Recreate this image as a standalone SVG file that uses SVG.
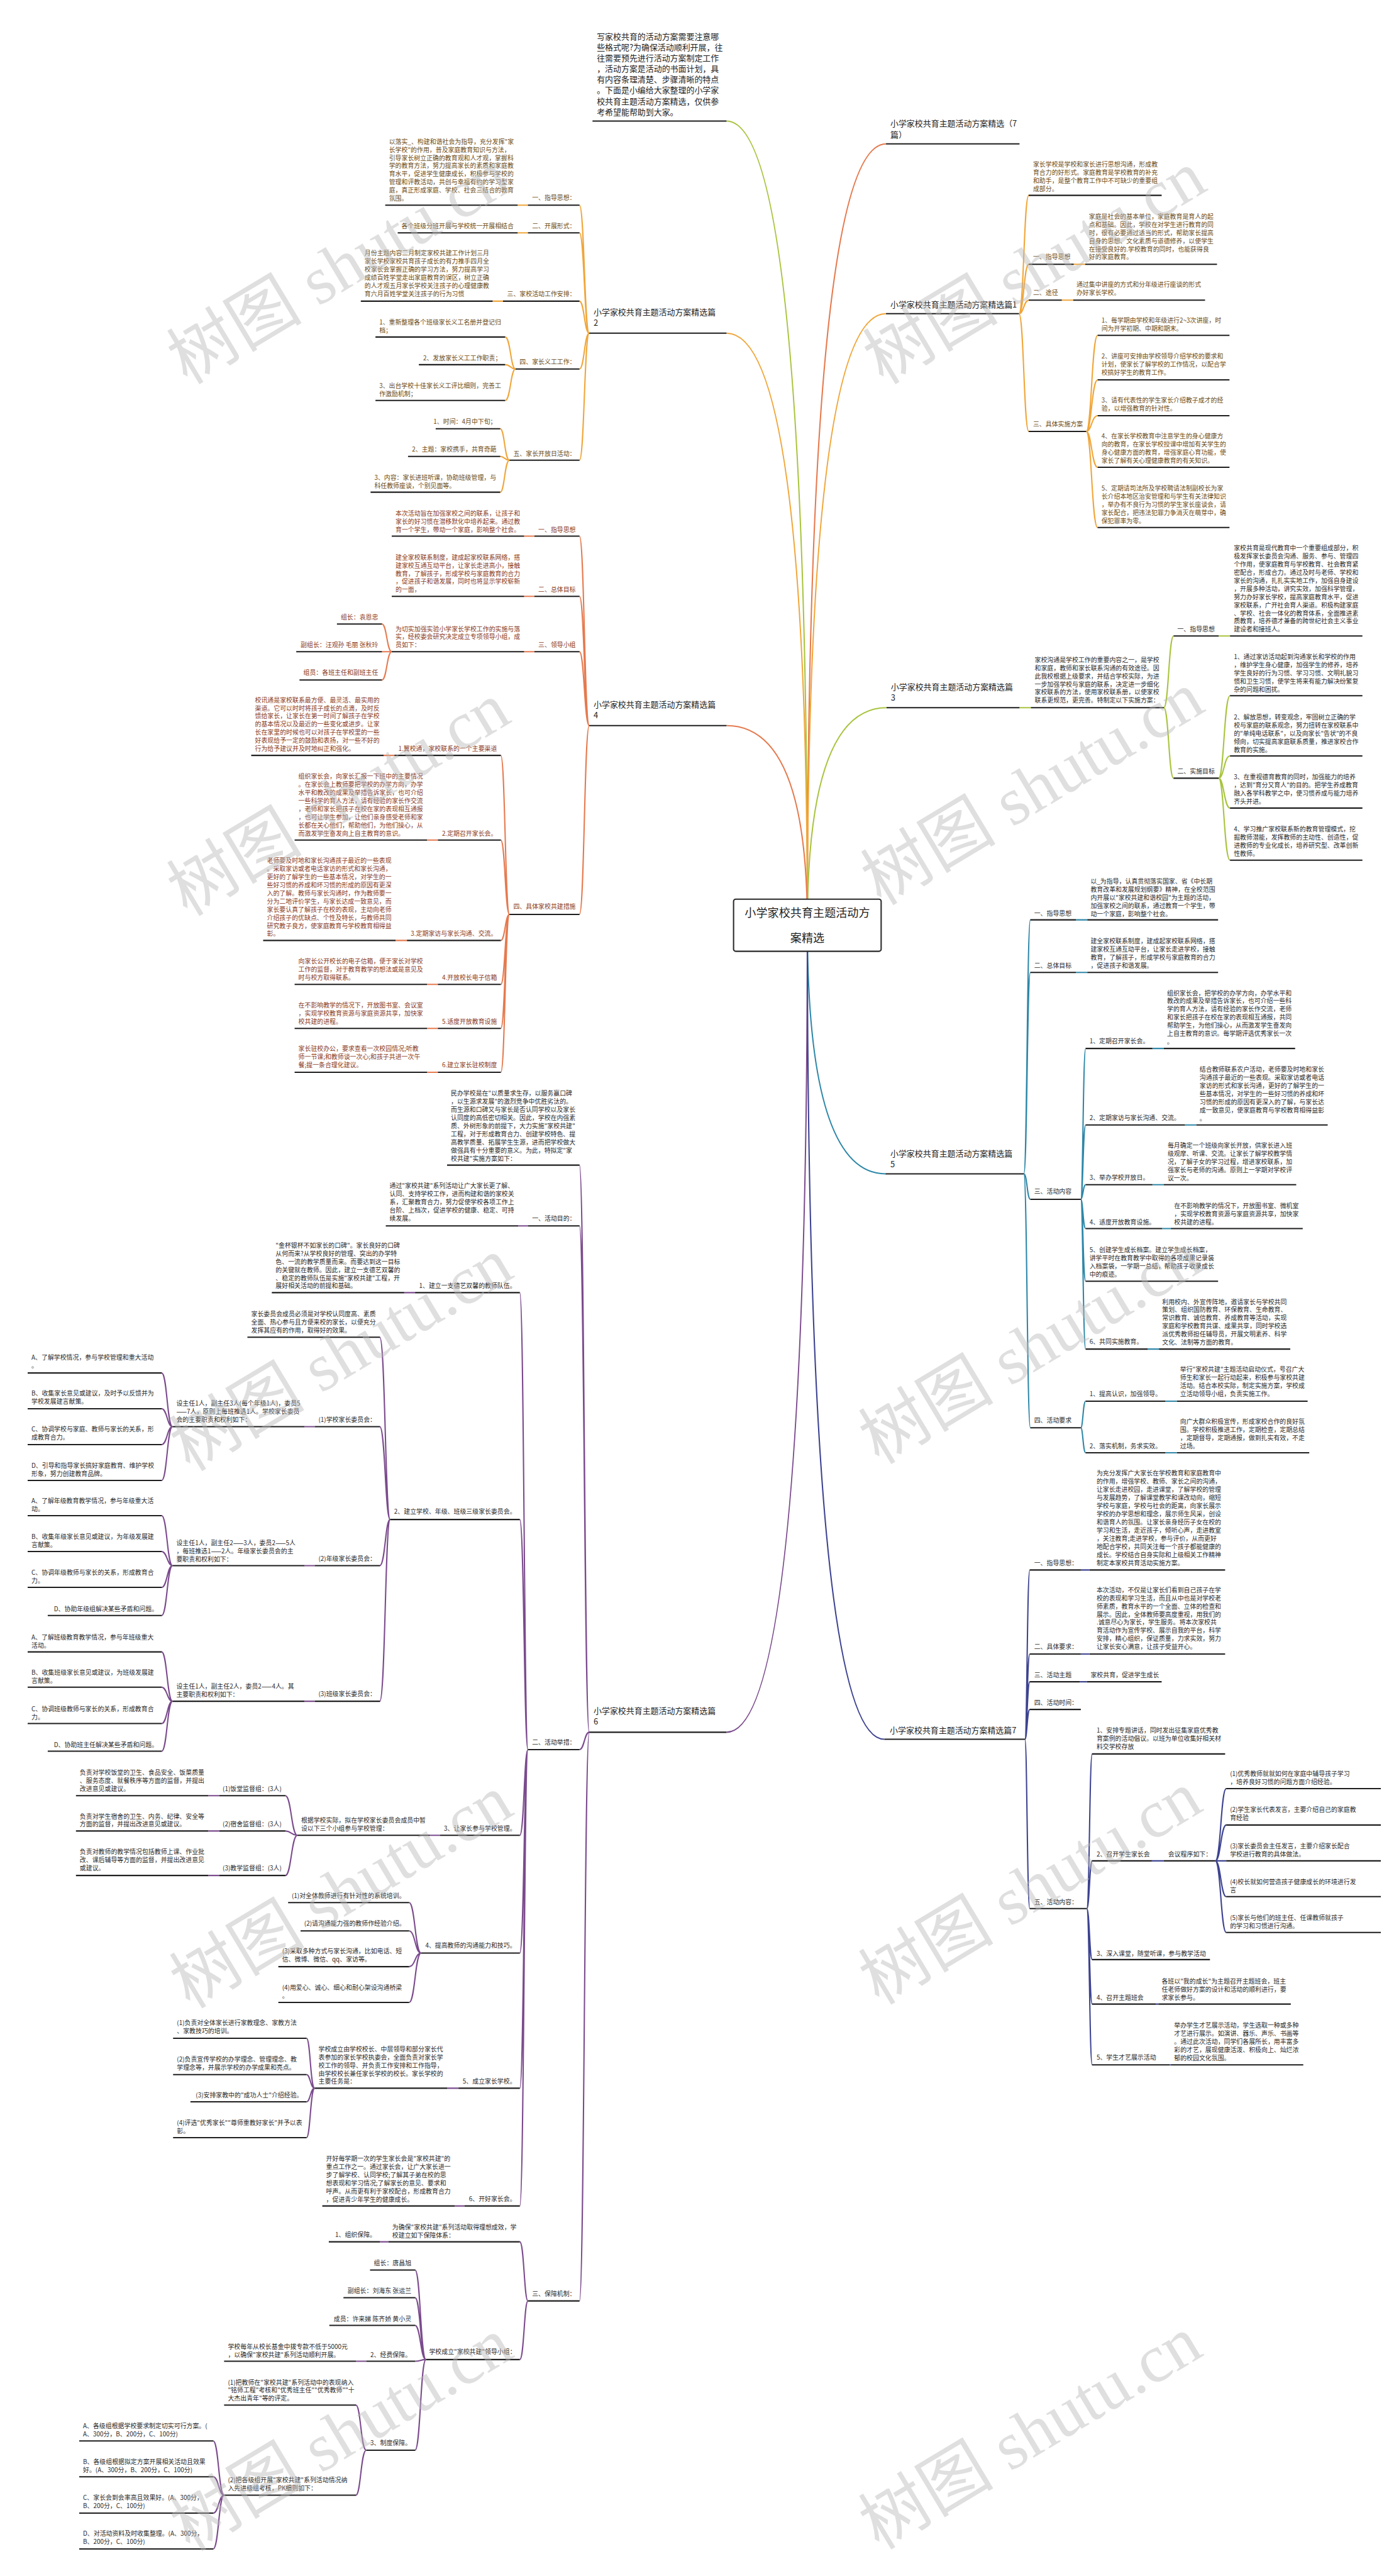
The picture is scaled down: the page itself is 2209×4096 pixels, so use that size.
<svg xmlns="http://www.w3.org/2000/svg" width="2209" height="4096" viewBox="0 0 2209 4096">
<style>
text{font-family:"Noto Sans CJK SC","Noto Sans",sans-serif}
.t{font-size:11.5px}
.e{text-anchor:end}
.tl{font-size:15px;fill:#1e1e1e}
.b{fill:#6b4a12}
.r{fill:#8a3a1c}
.d{fill:#2a2a2a}
.u{stroke:#1e1e1e;stroke-width:2.4;fill:none}
.c path{fill:none;stroke-width:2.4}
.cg{stroke:#a8c43e}.co{stroke:#f0a63a}.cr{stroke:#e57a4f}.ct{stroke:#2e87a8}.cp{stroke:#7b4b8d}.ci{stroke:#3d4390}
.wm{font-family:"Liberation Serif","Noto Sans CJK SC",serif;font-size:125px;fill:#b8b8b8;fill-opacity:.45}
</style>
<rect width="2209" height="4096" fill="#fff"/>
<g transform="scale(0.86289)">
<g id="connectors" class="c">
<path class="cg" d="M1488 1705Q1488 223 1339 223"/>
<path class="cr" d="M1488 1705Q1488 265 1633 265"/>
<path class="co" d="M1488 1705Q1488 578 1633 578"/>
<path class="co" d="M1488 1705Q1488 614 1339 614"/>
<path class="cg" d="M1488 1705Q1488 1304 1634 1304"/>
<path class="cr" d="M1488 1705Q1488 1337 1339 1337"/>
<path class="ct" d="M1488 1705Q1488 2163 1632 2163"/>
<path class="cp" d="M1488 1705Q1488 3192 1339 3192"/>
<path class="ci" d="M1488 1705Q1488 3205 1630 3205"/>
<!-- 篇1 -->
<path class="co" d="M1878 578C1887 578 1887 360 1896 360M1878 578C1887 578 1887 487 1896 487M1878 578C1887 578 1887 553 1896 553M1878 578C1887 578 1887 795 1896 795M1979 487H2000M1957 553H1978M2002 795C2012 795 2012 618 2023 618M2002 795C2012 795 2012 700 2023 700M2002 795C2012 795 2012 766 2023 766M2002 795C2012 795 2012 861 2023 861M2002 795C2012 795 2012 972 2023 972"/>
<!-- 篇2 -->
<path class="co" d="M1086 614C1077 614 1077 378 1068 378M1086 614C1077 614 1077 429 1068 429M1086 614C1077 614 1077 555 1068 555M1086 614C1077 614 1077 680 1068 680M1086 614C1077 614 1077 848 1068 848M973 378H954M973 429H954M927 555H908M950 680C941 680 941 621 931 621M950 680C941 680 941 672 931 672M950 680C941 680 941 738 931 738M939 848C930 848 930 790 922 790M939 848C930 848 930 841 922 841M939 848C930 848 930 907 922 907"/>
<!-- 篇3 -->
<path class="cg" d="M1879 1304H1900M2145 1304C2154 1304 2154 1172 2163 1172M2145 1304C2154 1304 2154 1434 2163 1434M2246 1172H2267M2246 1434C2256 1434 2256 1282 2267 1282M2246 1434C2256 1434 2256 1393 2267 1393M2246 1434C2256 1434 2256 1489 2267 1489M2246 1434C2256 1434 2256 1585 2267 1585"/>
<!-- 篇4 -->
<path class="cr" d="M1086 1337C1077 1337 1077 988 1068 988M1086 1337C1077 1337 1077 1099 1068 1099M1086 1337C1077 1337 1077 1201 1068 1201M1086 1337C1077 1337 1077 1685 1068 1685M985 988H966M985 1099H966M985 1201H966M722 1201C713 1201 713 1150 704 1150M722 1201H704M722 1201C713 1201 713 1253 704 1253M939 1685C931 1685 931 1392 923 1392M939 1685C931 1685 931 1548 923 1548M939 1685C931 1685 931 1733 923 1733M939 1685C931 1685 931 1814 923 1814M939 1685C931 1685 931 1895 923 1895M939 1685C931 1685 931 1976 923 1976M727 1392H707M807 1548H787M750 1733H729M807 1814H787M807 1895H787M807 1976H787"/>
<!-- 篇5 -->
<path class="ct" d="M1887 2163C1893 2163 1893 1695 1899 1695M1887 2163C1893 2163 1893 1792 1899 1792M1887 2163C1893 2163 1893 2210 1899 2210M1887 2163C1893 2163 1893 2631 1899 2631M1983 1695H2004M1983 1792H2004M1992 2210C1996 2210 1996 1932 2001 1932M1992 2210C1996 2210 1996 2073 2001 2073M1992 2210C1996 2210 1996 2183 2001 2183M1992 2210C1996 2210 1996 2264 2001 2264M1992 2210C1996 2210 1996 2361 2001 2361M1992 2210C1996 2210 1996 2486 2001 2486M2124 1932H2145M2184 2073H2205M2124 2183H2145M2142 2264H2158M2115 2486H2136M1992 2631C1996 2631 1996 2582 2001 2582M1992 2631C1996 2631 1996 2677 2001 2677M2148 2582H2169M2148 2677H2169"/>
<!-- 篇6 -->
<path class="cp" d="M1086 3192C1077 3192 1077 2147 1068 2147M1086 3192C1077 3192 1077 2259 1068 2259M1086 3192C1077 3192 1077 3224 1068 3224M1086 3192C1077 3192 1077 4240 1068 4240M973 2259H955M973 3224C966 3224 966 2382 958 2382M973 3224C966 3224 966 2800 958 2800M973 3224C966 3224 966 3382 958 3382M973 3224C966 3224 966 3599 958 3599M973 3224C966 3224 966 3848 958 3848M973 3224C966 3224 966 4065 958 4065M765 2382H745M719 2800C710 2800 710 2464 700 2464M719 2800C710 2800 710 2629 700 2629M719 2800C710 2800 710 2885 700 2885M719 2800C710 2800 710 3135 700 3135M580 2629H561M580 2885H561M580 3135H561M318 2629C308 2629 308 2530 298 2530M318 2629C308 2629 308 2596 298 2596M318 2629C308 2629 308 2662 298 2662M318 2629C308 2629 308 2728 298 2728M318 2885C308 2885 308 2793 298 2793M318 2885C308 2885 308 2859 298 2859M318 2885C308 2885 308 2925 298 2925M318 2885C308 2885 308 2977 298 2977M318 3135C308 3135 308 3044 298 3044M318 3135C308 3135 308 3109 298 3109M318 3135C308 3135 308 3176 298 3176M318 3135C308 3135 308 3227 298 3227M811 3382H792M548 3382C537 3382 537 3309 526 3309M548 3382C537 3382 537 3374 526 3374M548 3382C537 3382 537 3456 526 3456M404 3309H384M404 3374H384M404 3456H384M776 3599C765 3599 765 3506 754 3506M776 3599C765 3599 765 3558 754 3558M776 3599C765 3599 765 3624 754 3624M776 3599C765 3599 765 3690 754 3690M845 3848H824M580 3848C572 3848 572 3756 565 3756M580 3848C572 3848 572 3823 565 3823M580 3848C572 3848 572 3873 565 3873M580 3848C572 3848 572 3939 565 3939M856 4065H838M973 4240C966 4240 966 4131 958 4131M973 4240C966 4240 966 4348 958 4348M716 4131H700M785 4348C775 4348 775 4183 765 4183M785 4348C775 4348 775 4234 765 4234M785 4348C775 4348 775 4285 765 4285M785 4348C775 4348 775 4351 765 4351M785 4348C775 4348 775 4515 765 4515M675 4351H656M675 4515C665 4515 665 4432 656 4432M675 4515C665 4515 665 4598 656 4598M413 4598C403 4598 403 4498 393 4498M413 4598C403 4598 403 4564 393 4564M413 4598C403 4598 403 4631 393 4631M413 4598C403 4598 403 4697 393 4697"/>
<!-- 篇7 -->
<path class="ci" d="M1889 3205C1893 3205 1893 2893 1898 2893M1889 3205C1893 3205 1893 3048 1898 3048M1889 3205C1893 3205 1893 3099 1898 3099M1889 3205C1893 3205 1893 3150 1898 3150M1889 3205C1893 3205 1893 3517 1898 3517M1992 2893H2008M1992 3048H2008M1990 3099H2003M2003 3517C2008 3517 2008 3232 2013 3232M2003 3517C2008 3517 2008 3429 2013 3429M2003 3517C2008 3517 2008 3611 2013 3611M2003 3517C2008 3517 2008 3693 2013 3693M2003 3517C2008 3517 2008 3805 2013 3805M2123 3429H2145M2240 3429C2250 3429 2250 3296 2260 3296M2240 3429C2250 3429 2250 3363 2260 3363M2240 3429H2260M2240 3429C2250 3429 2250 3495 2260 3495M2240 3429C2250 3429 2250 3561 2260 3561M2130 3693H2135M2156 3805H2158"/>
</g>

<g id="center">
<rect x="1352" y="1657" width="272" height="96" rx="4" fill="#fff" stroke="#2a2a2a" stroke-width="2.4"/>
<text x="1488" y="1690" font-size="21" text-anchor="middle" fill="#1e1e1e">小学家校共育主题活动方</text>
<text x="1488" y="1736" font-size="21" text-anchor="middle" fill="#1e1e1e">案精选</text>
</g>

<g id="n-intro">
<text class="tl" x="1100" y="72.5"><tspan>写家校共育的活动方案需要注意哪</tspan><tspan x="1100" dy="19.9">些格式呢?为确保活动顺利开展，往</tspan><tspan x="1100" dy="19.9">往需要预先进行活动方案制定工作</tspan><tspan x="1100" dy="19.9">，活动方案是活动的书面计划，具</tspan><tspan x="1100" dy="19.9">有内容条理清楚、步骤清晰的特点</tspan><tspan x="1100" dy="19.9">。下面是小编给大家整理的小学家</tspan><tspan x="1100" dy="19.9">校共育主题活动方案精选，仅供参</tspan><tspan x="1100" dy="19.9">考希望能帮助到大家。</tspan></text>
<path class="u" d="M1092 223H1339"/>
</g>
<g id="n-7pian">
<text class="tl" x="1641" y="233.5"><tspan>小学家校共育主题活动方案精选（7</tspan><tspan x="1641" dy="20">篇）</tspan></text>
<path class="u" d="M1633 265H1879"/>
</g>

<!-- 篇1 -->
<g id="n-p1">
<text class="tl" x="1641" y="566.5">小学家校共育主题活动方案精选篇1</text>
<path class="u" d="M1633 578H1878"/>
</g>
<g id="n-p1-a">
<text class="t b" x="1904" y="307"><tspan>家长学校是学校和家长进行思想沟通，形成教</tspan><tspan x="1904" dy="15">育合力的好形式。家庭教育是学校教育的补充</tspan><tspan x="1904" dy="15">和助手，是整个教育工作中不可缺少的重要组</tspan><tspan x="1904" dy="15">成部分。</tspan></text>
<path class="u" d="M1896 360H2141"/>
</g>
<g id="n-p1-b">
<text class="t b" x="1904" y="477">一、指导思想</text>
<path class="u" d="M1896 487H1979"/>
</g>
<g id="n-p1-b1">
<text class="t b" x="2007" y="403"><tspan>家庭是社会的基本单位，家庭教育是育人的起</tspan><tspan x="2007" dy="15">点和基础。因此，学校在对学生进行教育的同</tspan><tspan x="2007" dy="15">时，很有必要通过适当的形式，帮助家长提高</tspan><tspan x="2007" dy="15">自身的思想、文化素质与道德修养，以使学生</tspan><tspan x="2007" dy="15">在接受良好的.学校教育的同时，也能获得良</tspan><tspan x="2007" dy="15">好的家庭教育。</tspan></text>
<path class="u" d="M2000 487H2243"/>
</g>
<g id="n-p1-c">
<text class="t b" x="1904" y="544">二、途径</text>
<path class="u" d="M1896 553H1957"/>
</g>
<g id="n-p1-c1">
<text class="t b" x="1984" y="529"><tspan>通过集中讲座的方式和分年级进行座谈的形式</tspan><tspan x="1984" dy="15">办好家长学校。</tspan></text>
<path class="u" d="M1978 553H2221"/>
</g>
<g id="n-p1-d">
<text class="t b" x="1904" y="786">三、具体实施方案</text>
<path class="u" d="M1896 795H2002"/>
</g>
<g id="n-p1-d1">
<text class="t b" x="2030" y="595"><tspan>1、每学期由学校和年级进行2~3次讲座，时</tspan><tspan x="2030" dy="15">间为开学初期、中期和期末。</tspan></text>
<path class="u" d="M2023 618H2266"/>
</g>
<g id="n-p1-d2">
<text class="t b" x="2030" y="661"><tspan>2、讲座可安排由学校领导介绍学校的要求和</tspan><tspan x="2030" dy="15">计划，使家长了解学校的工作情况，以配合学</tspan><tspan x="2030" dy="15">校搞好学生的教育工作。</tspan></text>
<path class="u" d="M2023 700H2266"/>
</g>
<g id="n-p1-d3">
<text class="t b" x="2030" y="742"><tspan>3、请有代表性的学生家长介绍教子成才的经</tspan><tspan x="2030" dy="15">验，以增强教育的针对性。</tspan></text>
<path class="u" d="M2023 766H2266"/>
</g>
<g id="n-p1-d4">
<text class="t b" x="2030" y="808"><tspan>4、在家长学校教育中注意学生的身心健康方</tspan><tspan x="2030" dy="15">向的教育，在家长学校授课中增加有关学生的</tspan><tspan x="2030" dy="15">身心健康方面的教育，增强家庭心育功能，使</tspan><tspan x="2030" dy="15">家长了解有关心理健康教育的有关知识。</tspan></text>
<path class="u" d="M2023 861H2266"/>
</g>
<g id="n-p1-d5">
<text class="t b" x="2030" y="904"><tspan>5、定期请司法所及学校聘请法制副校长为家</tspan><tspan x="2030" dy="15">长介绍本地区治安管理和与学生有关法律知识</tspan><tspan x="2030" dy="15">，举办有不良行为习惯的学生家长座谈会，请</tspan><tspan x="2030" dy="15">家长配合，把违法犯罪力争消灭在萌芽中，确</tspan><tspan x="2030" dy="15">保犯罪率为零。</tspan></text>
<path class="u" d="M2023 972H2266"/>
</g>

<!-- 篇2 -->
<g id="n-p2">
<text class="tl" x="1094" y="580.5"><tspan>小学家校共育主题活动方案精选篇</tspan><tspan x="1094" dy="19.5">2</tspan></text>
<path class="u" d="M1086 614H1339"/>
</g>
<g id="n-p2-a">
<text class="t b e" x="1061" y="369">一、指导思想：</text>
<path class="u" d="M973 378H1068"/>
</g>
<g id="n-p2-a1">
<text class="t b" x="717" y="265"><tspan>以落实_、构建和谐社会为指导，充分发挥"家</tspan><tspan x="717" dy="15">长学校"的作用，普及家庭教育知识与方法，</tspan><tspan x="717" dy="15">引导家长树立正确的教育观和人才观，掌握科</tspan><tspan x="717" dy="15">学的教育方法，努力提高家长的素质和家庭教</tspan><tspan x="717" dy="15">育水平，促进学生健康成长，积极参与学校的</tspan><tspan x="717" dy="15">管理和评教活动，共创与幸福有约的学习型家</tspan><tspan x="717" dy="15">庭，真正形成家庭、学校、社会三结合的教育</tspan><tspan x="717" dy="15">氛围。</tspan></text>
<path class="u" d="M710 378H954"/>
</g>
<g id="n-p2-b">
<text class="t b e" x="1061" y="421">二、开展形式：</text>
<path class="u" d="M973 429H1068"/>
</g>
<g id="n-p2-b1">
<text class="t b" x="740" y="421">各个班级分班开展与学校统一开展相结合</text>
<path class="u" d="M733 429H954"/>
</g>
<g id="n-p2-c">
<text class="t b e" x="1061" y="546">三、家校活动工作安排：</text>
<path class="u" d="M927 555H1068"/>
</g>
<g id="n-p2-c1">
<text class="t b" x="672" y="471"><tspan>月份主题内容二月制定家校共建工作计划三月</tspan><tspan x="672" dy="15">家长学校家校共育孩子成长的有力推手四月全</tspan><tspan x="672" dy="15">校家长会掌握正确的学习方法，努力提高学习</tspan><tspan x="672" dy="15">成绩百姓学堂走出家庭教育的误区，树立正确</tspan><tspan x="672" dy="15">的人才观五月家长学校关注孩子的心理健康教</tspan><tspan x="672" dy="15">育六月百姓学堂关注孩子的行为习惯</tspan></text>
<path class="u" d="M665 555H908"/>
</g>
<g id="n-p2-d">
<text class="t b e" x="1061" y="671">四、家长义工工作：</text>
<path class="u" d="M950 680H1068"/>
</g>
<g id="n-p2-d1">
<text class="t b" x="699" y="598"><tspan>1、重新整理各个班级家长义工名册并登记归</tspan><tspan x="699" dy="15">档；</tspan></text>
<path class="u" d="M692 621H931"/>
</g>
<g id="n-p2-d2">
<text class="t b e" x="924" y="664">2、发放家长义工工作职责；</text>
<path class="u" d="M772 672H931"/>
</g>
<g id="n-p2-d3">
<text class="t b" x="699" y="715"><tspan>3、出台学校十佳家长义工评比细则，完善工</tspan><tspan x="699" dy="15">作激励机制；</tspan></text>
<path class="u" d="M692 738H931"/>
</g>
<g id="n-p2-e">
<text class="t b e" x="1061" y="840">五、家长开放日活动：</text>
<path class="u" d="M939 848H1068"/>
</g>
<g id="n-p2-e1">
<text class="t b e" x="915" y="781">1、时间：4月中下旬；</text>
<path class="u" d="M803 790H922"/>
</g>
<g id="n-p2-e2">
<text class="t b e" x="915" y="832">2、主题：家校携手，共育奇葩</text>
<path class="u" d="M752 841H922"/>
</g>
<g id="n-p2-e3">
<text class="t b" x="690" y="884"><tspan>3、内容：家长进班听课，协助班级管理，与</tspan><tspan x="690" dy="15">科任教师座谈，个别见面等。</tspan></text>
<path class="u" d="M683 907H922"/>
</g>

<!-- 篇3 -->
<g id="n-p3">
<text class="tl" x="1642" y="1271.5"><tspan>小学家校共育主题活动方案精选篇</tspan><tspan x="1642" dy="20">3</tspan></text>
<path class="u" d="M1634 1304H1879"/>
</g>
<g id="n-p3-a">
<text class="t d" x="1907" y="1220"><tspan>家校沟通是学校工作的重要内容之一，是学校</tspan><tspan x="1907" dy="15">和家庭，教师和家长联系沟通的有效途径。因</tspan><tspan x="1907" dy="15">此我校根据上级要求，并结合学校实际，为进</tspan><tspan x="1907" dy="15">一步加强学校与家庭的联系，决定进一步细化</tspan><tspan x="1907" dy="15">家校联系的方法，使用家校联系册，以使家校</tspan><tspan x="1907" dy="15">联系更规范，更完善。特制定以下实施方案：</tspan></text>
<path class="u" d="M1900 1304H2145"/>
</g>
<g id="n-p3-b">
<text class="t d" x="2170" y="1164">一、指导思想</text>
<path class="u" d="M2163 1172H2246"/>
</g>
<g id="n-p3-b1">
<text class="t d" x="2274" y="1014"><tspan>家校共育是现代教育中一个重要组成部分，积</tspan><tspan x="2274" dy="15">极发挥家长委员会沟通、服务、参与、管理四</tspan><tspan x="2274" dy="15">个作用，使家庭教育与学校教育、社会教育紧</tspan><tspan x="2274" dy="15">密配合，形成合力。通过及时与老师、学校和</tspan><tspan x="2274" dy="15">家长的沟通，扎扎实实地工作，加强自身建设</tspan><tspan x="2274" dy="15">，开展多种活动，讲究实效，加强科学管理，</tspan><tspan x="2274" dy="15">努力办好家长学校，提高家庭教育水平，促进</tspan><tspan x="2274" dy="15">家校联系，广开社会育人渠道。积极构建家庭</tspan><tspan x="2274" dy="15">、学校、社会一体化的教育体系，全面推进素</tspan><tspan x="2274" dy="15">质教育，培养德才兼备的跨世纪社会主义事业</tspan><tspan x="2274" dy="15">建设者和接班人。</tspan></text>
<path class="u" d="M2267 1172H2511"/>
</g>
<g id="n-p3-c">
<text class="t d" x="2170" y="1426">二、实施目标</text>
<path class="u" d="M2163 1434H2246"/>
</g>
<g id="n-p3-c1">
<text class="t d" x="2274" y="1215"><tspan>1、通过家访活动起到沟通家长和学校的作用</tspan><tspan x="2274" dy="15">，维护学生身心健康，加强学生的修养，培养</tspan><tspan x="2274" dy="15">学生良好的行为习惯、学习习惯、文明礼貌习</tspan><tspan x="2274" dy="15">惯和卫生习惯，使学生将来有能力解决纷繁复</tspan><tspan x="2274" dy="15">杂的问题和困扰。</tspan></text>
<path class="u" d="M2267 1282H2511"/>
</g>
<g id="n-p3-c2">
<text class="t d" x="2274" y="1326"><tspan>2、解放思想，转变观念，牢固树立正确的学</tspan><tspan x="2274" dy="15">校与家庭的联系观念，努力扭转在家校联系中</tspan><tspan x="2274" dy="15">的"单纯电话联系"，以及向家长"告状"的不良</tspan><tspan x="2274" dy="15">倾向，切实提高家庭联系质量，推进家校合作</tspan><tspan x="2274" dy="15">教育的实施。</tspan></text>
<path class="u" d="M2267 1393H2511"/>
</g>
<g id="n-p3-c3">
<text class="t d" x="2274" y="1436"><tspan>3、在重视德育教育的同时，加强能力的培养</tspan><tspan x="2274" dy="15">，达到"育分又育人"的目的。把学生养成教育</tspan><tspan x="2274" dy="15">融入各学科教学之中，使习惯养成与能力培养</tspan><tspan x="2274" dy="15">齐头并进。</tspan></text>
<path class="u" d="M2267 1489H2511"/>
</g>
<g id="n-p3-c4">
<text class="t d" x="2274" y="1532"><tspan>4、学习推广家校联系新的教育管理模式，挖</tspan><tspan x="2274" dy="15">掘教师潜能，发挥教师的主动性、创造性，促</tspan><tspan x="2274" dy="15">进教师的专业化成长，培养研究型、改革创新</tspan><tspan x="2274" dy="15">性教师。</tspan></text>
<path class="u" d="M2267 1585H2511"/>
</g>

<!-- 篇4 -->
<g id="n-p4">
<text class="tl" x="1094" y="1303.5"><tspan>小学家校共育主题活动方案精选篇</tspan><tspan x="1094" dy="20">4</tspan></text>
<path class="u" d="M1086 1337H1339"/>
</g>
<g id="n-p4-a">
<text class="t r e" x="1061" y="980">一、指导思想</text>
<path class="u" d="M985 988H1068"/>
</g>
<g id="n-p4-a1">
<text class="t r" x="729" y="950"><tspan>本次活动旨在加强家校之间的联系，让孩子和</tspan><tspan x="729" dy="15">家长的好习惯在潜移默化中培养起来。通过教</tspan><tspan x="729" dy="15">育一个学生，带动一个家庭，影响整个社会。</tspan></text>
<path class="u" d="M722 988H966"/>
</g>
<g id="n-p4-b">
<text class="t r e" x="1061" y="1090">二、总体目标</text>
<path class="u" d="M985 1099H1068"/>
</g>
<g id="n-p4-b1">
<text class="t r" x="729" y="1031"><tspan>建全家校联系制度，建成起家校联系网络，搭</tspan><tspan x="729" dy="15">建家校互通互动平台，让家长走进高小，接触</tspan><tspan x="729" dy="15">教育，了解孩子，形成学校与家庭教育的合力</tspan><tspan x="729" dy="15">，促进孩子和谐发展，同时也将显示学校崭新</tspan><tspan x="729" dy="15">的一面，</tspan></text>
<path class="u" d="M722 1099H966"/>
</g>
<g id="n-p4-c">
<text class="t r e" x="1061" y="1193">三、领导小组</text>
<path class="u" d="M985 1201H1068"/>
</g>
<g id="n-p4-c1">
<text class="t r" x="729" y="1163"><tspan>为切实加强实验小学家长学校工作的实施与落</tspan><tspan x="729" dy="15">实，经校委会研究决定成立专项领导小组，成</tspan><tspan x="729" dy="15">员如下：</tspan></text>
<path class="u" d="M722 1201H966"/>
</g>
<g id="n-p4-c1a"><text class="t r e" x="697" y="1141">组长：袁恩忠</text><path class="u" d="M621 1150H704"/></g>
<g id="n-p4-c1b"><text class="t r e" x="697" y="1193">副组长：汪观孙 毛丽 张秋玲</text><path class="u" d="M546 1201H704"/></g>
<g id="n-p4-c1c"><text class="t r e" x="697" y="1244">组员：各班主任和副班主任</text><path class="u" d="M552 1253H704"/></g>
<g id="n-p4-d">
<text class="t r e" x="1061" y="1675">四、具体家校共建措施</text>
<path class="u" d="M939 1685H1068"/>
</g>
<g id="n-p4-d1">
<text class="t r e" x="916" y="1384">1.翼校通，家校联系的一个主要渠道</text>
<path class="u" d="M727 1392H923"/>
</g>
<g id="n-p4-d1t">
<text class="t r" x="470" y="1294"><tspan>校讯通是家校联系最方便、最灵活、最实用的</tspan><tspan x="470" dy="15">渠道。它可以时时将孩子成长的点滴，及时反</tspan><tspan x="470" dy="15">馈给家长，让家长在第一时间了解孩子在学校</tspan><tspan x="470" dy="15">的基本情况以及最近的一些变化或进步。让家</tspan><tspan x="470" dy="15">长在家里的时候也可以对孩子在学校里的一些</tspan><tspan x="470" dy="15">好表现给予一定的鼓励和表扬，对一些不好的</tspan><tspan x="470" dy="15">行为给予建议并及时地纠正和强化。</tspan></text>
<path class="u" d="M463 1392H707"/>
</g>
<g id="n-p4-d2">
<text class="t r e" x="916" y="1540">2.定期召开家长会。</text>
<path class="u" d="M807 1548H923"/>
</g>
<g id="n-p4-d2t">
<text class="t r" x="550" y="1435"><tspan>组织家长会，向家长汇报一下班中的主要情况</tspan><tspan x="550" dy="15">。在家长会上教师要把学校的办学方向，办学</tspan><tspan x="550" dy="15">水平和教改的成果及举措告诉家长，也可介绍</tspan><tspan x="550" dy="15">一些科学的育人方法，请有经验的家长作交流</tspan><tspan x="550" dy="15">，老师和家长把孩子在校在家的表现相互通报</tspan><tspan x="550" dy="15">，也可让学生参加，让他们亲身感受老师和家</tspan><tspan x="550" dy="15">长都在关心他们，帮助他们，为他们操心，从</tspan><tspan x="550" dy="15">而激发学生奋发向上自主教育的意识。</tspan></text>
<path class="u" d="M543 1548H787"/>
</g>
<g id="n-p4-d3">
<text class="t r e" x="916" y="1725">3.定期家访与家长沟通、交流。</text>
<path class="u" d="M750 1733H923"/>
</g>
<g id="n-p4-d3t">
<text class="t r" x="492" y="1590"><tspan>老师要及时地和家长沟通孩子最近的一些表现</tspan><tspan x="492" dy="15">。采取家访或者电话家访的形式和家长沟通，</tspan><tspan x="492" dy="15">更好的了解学生的一些基本情况，对学生的一</tspan><tspan x="492" dy="15">些好习惯的养成和坏习惯的形成的原因有更深</tspan><tspan x="492" dy="15">入的了解。教师与家长沟通时，作为教师要一</tspan><tspan x="492" dy="15">分为二地评价学生，与家长达成一致意见，而</tspan><tspan x="492" dy="15">家长要认真了解孩子在校的表现，主动向老师</tspan><tspan x="492" dy="15">介绍孩子的优缺点、个性及特长，与教师共同</tspan><tspan x="492" dy="15">研究教子良方，使家庭教育与学校教育相得益</tspan><tspan x="492" dy="15">彰。</tspan></text>
<path class="u" d="M485 1733H729"/>
</g>
<g id="n-p4-d4">
<text class="t r e" x="916" y="1806">4.开放校长电子信箱</text>
<path class="u" d="M807 1814H923"/>
</g>
<g id="n-p4-d4t">
<text class="t r" x="550" y="1776"><tspan>向家长公开校长的电子信箱，便于家长对学校</tspan><tspan x="550" dy="15">工作的监督，对于教育教学的想法或是意见及</tspan><tspan x="550" dy="15">时与校方取得联系。</tspan></text>
<path class="u" d="M543 1814H787"/>
</g>
<g id="n-p4-d5">
<text class="t r e" x="916" y="1887">5.适度开放教育设施</text>
<path class="u" d="M807 1895H923"/>
</g>
<g id="n-p4-d5t">
<text class="t r" x="550" y="1857"><tspan>在不影响教学的情况下，开放图书室、会议室</tspan><tspan x="550" dy="15">，实现学校教育资源与家庭资源共享，加快家</tspan><tspan x="550" dy="15">校共建的进程。</tspan></text>
<path class="u" d="M543 1895H787"/>
</g>
<g id="n-p4-d6">
<text class="t r e" x="916" y="1967">6.建立家长驻校制度</text>
<path class="u" d="M807 1976H923"/>
</g>
<g id="n-p4-d6t">
<text class="t r" x="550" y="1937"><tspan>家长驻校办公，要求查看一次校园情况;听教</tspan><tspan x="550" dy="15">师一节课;和教师谈一次心;和孩子共进一次午</tspan><tspan x="550" dy="15">餐;提一条合理化建议。</tspan></text>
<path class="u" d="M543 1976H787"/>
</g>

<!-- 篇5 -->
<g id="n-p5">
<text class="tl" x="1641" y="2131.5"><tspan>小学家校共育主题活动方案精选篇</tspan><tspan x="1641" dy="20">5</tspan></text>
<path class="u" d="M1632 2163H1887"/>
</g>
<g id="n-p5-a"><text class="t d" x="1906" y="1687">一、指导思想</text><path class="u" d="M1899 1695H1983"/></g>
<g id="n-p5-a1">
<text class="t d" x="2010" y="1628"><tspan>以_为指导，认真贯彻落实国家、省《中长期</tspan><tspan x="2010" dy="15">教育改革和发展规划纲要》精神，在全校范围</tspan><tspan x="2010" dy="15">内开展以"家校共建和谐校园"为主题的活动，</tspan><tspan x="2010" dy="15">加强家校之间的联系，通过教育一个学生，带</tspan><tspan x="2010" dy="15">动一个家庭，影响整个社会。</tspan></text>
<path class="u" d="M2004 1695H2245"/>
</g>
<g id="n-p5-b"><text class="t d" x="1906" y="1783">二、总体目标</text><path class="u" d="M1899 1792H1983"/></g>
<g id="n-p5-b1">
<text class="t d" x="2010" y="1738"><tspan>建全家校联系制度，建成起家校联系网络，搭</tspan><tspan x="2010" dy="15">建家校互通互动平台，让家长走进学校，接触</tspan><tspan x="2010" dy="15">教育，了解孩子，形成学校与家庭教育的合力</tspan><tspan x="2010" dy="15">，促进孩子和谐发展。</tspan></text>
<path class="u" d="M2004 1792H2245"/>
</g>
<g id="n-p5-c"><text class="t d" x="1906" y="2200">三、活动内容</text><path class="u" d="M1899 2210H1992"/></g>
<g id="n-p5-c1"><text class="t d" x="2008" y="1923">1、定期召开家长会。</text><path class="u" d="M2001 1932H2124"/></g>
<g id="n-p5-c1t">
<text class="t d" x="2151" y="1834"><tspan>组织家长会，把学校的办学方向，办学水平和</tspan><tspan x="2151" dy="15">教改的成果及举措告诉家长，也可介绍一些科</tspan><tspan x="2151" dy="15">学的育人方法，请有经验的家长作交流，老师</tspan><tspan x="2151" dy="15">和家长把孩子在校在家的表现相互通报，共同</tspan><tspan x="2151" dy="15">帮助学生，为他们操心，从而激发学生奋发向</tspan><tspan x="2151" dy="15">上自主教育的意识。每学期评选优秀家长一次</tspan><tspan x="2151" dy="15">。</tspan></text>
<path class="u" d="M2145 1932H2387"/>
</g>
<g id="n-p5-c2"><text class="t d" x="2008" y="2064">2、定期家访与家长沟通、交流。</text><path class="u" d="M2001 2073H2184"/></g>
<g id="n-p5-c2t">
<text class="t d" x="2211" y="1975"><tspan>结合教师联系农户活动，老师要及时地和家长</tspan><tspan x="2211" dy="15">沟通孩子最近的一些表现。采取家访或者电话</tspan><tspan x="2211" dy="15">家访的形式和家长沟通，更好的了解学生的一</tspan><tspan x="2211" dy="15">些基本情况，对学生的一些好习惯的养成和坏</tspan><tspan x="2211" dy="15">习惯的形成的原因有更深入的了解，与家长达</tspan><tspan x="2211" dy="15">成一致意见，使家庭教育与学校教育相得益彰</tspan><tspan x="2211" dy="15">。</tspan></text>
<path class="u" d="M2205 2073H2447"/>
</g>
<g id="n-p5-c3"><text class="t d" x="2008" y="2174">3、举办学校开放日。</text><path class="u" d="M2001 2183H2124"/></g>
<g id="n-p5-c3t">
<text class="t d" x="2152" y="2115"><tspan>每月确定一个班级向家长开放，供家长进入班</tspan><tspan x="2152" dy="15">级观摩、听课、交流。让家长了解学校教学情</tspan><tspan x="2152" dy="15">况，了解子女的学习过程，增进家校联系，加</tspan><tspan x="2152" dy="15">强家长与老师的沟通。原则上一学期对学校评</tspan><tspan x="2152" dy="15">议一次。</tspan></text>
<path class="u" d="M2145 2183H2389"/>
</g>
<g id="n-p5-c4"><text class="t d" x="2008" y="2256">4、适度开放教育设施。</text><path class="u" d="M2001 2264H2142"/></g>
<g id="n-p5-c4t">
<text class="t d" x="2164" y="2226"><tspan>在不影响教学的情况下，开放图书室、微机室</tspan><tspan x="2164" dy="15">，实现学校教育资源与家庭资源共享，加快家</tspan><tspan x="2164" dy="15">校共建的进程。</tspan></text>
<path class="u" d="M2158 2264H2401"/>
</g>
<g id="n-p5-c5">
<text class="t d" x="2008" y="2307"><tspan>5、创建学生成长档案。建立学生成长档案，</tspan><tspan x="2008" dy="15">讲学平时在教育教学中取得的各项成果记录装</tspan><tspan x="2008" dy="15">入档案袋，一学期一总结，帮助孩子收录成长</tspan><tspan x="2008" dy="15">中的痕迹。</tspan></text>
<path class="u" d="M2001 2361H2245"/>
</g>
<g id="n-p5-c6"><text class="t d" x="2008" y="2477">6、共同实施教育。</text><path class="u" d="M2001 2486H2115"/></g>
<g id="n-p5-c6t">
<text class="t d" x="2142" y="2403"><tspan>利用校内、外宣传阵地，邀请家长与学校共同</tspan><tspan x="2142" dy="15">策划、组织国防教育、环保教育、生命教育、</tspan><tspan x="2142" dy="15">常识教育、诚信教育、养成教育等活动，实现</tspan><tspan x="2142" dy="15">家庭和学校教育共谋、成果共享，同时学校选</tspan><tspan x="2142" dy="15">派优秀教师担任辅导员，开展文明素养、科学</tspan><tspan x="2142" dy="15">文化、法制等方面的教育。</tspan></text>
<path class="u" d="M2136 2486H2378"/>
</g>
<g id="n-p5-d"><text class="t d" x="1906" y="2622">四、活动要求</text><path class="u" d="M1899 2631H1992"/></g>
<g id="n-p5-d1"><text class="t d" x="2008" y="2573">1、提高认识，加强领导。</text><path class="u" d="M2001 2582H2148"/></g>
<g id="n-p5-d1t">
<text class="t d" x="2175" y="2528"><tspan>举行"家校共建"主题活动启动仪式，号召广大</tspan><tspan x="2175" dy="15">师生和家长一起行动起来，积极参与家校共建</tspan><tspan x="2175" dy="15">活动。结合本校实际，制定实施方案，学校成</tspan><tspan x="2175" dy="15">立活动领导小组，负责实施工作。</tspan></text>
<path class="u" d="M2169 2582H2410"/>
</g>
<g id="n-p5-d2"><text class="t d" x="2008" y="2669">2、落实机制，务求实效。</text><path class="u" d="M2001 2677H2148"/></g>
<g id="n-p5-d2t">
<text class="t d" x="2175" y="2624"><tspan>向广大群众积极宣传，形成家校合作的良好氛</tspan><tspan x="2175" dy="15">围。学校积极推进工作，定期检查，定期总结</tspan><tspan x="2175" dy="15">，定期督导，定期通报，做到扎实有效，不走</tspan><tspan x="2175" dy="15">过场。</tspan></text>
<path class="u" d="M2169 2677H2413"/>
</g>

<!-- 篇6 -->
<g id="n-p6">
<text class="tl" x="1094" y="3157.5"><tspan>小学家校共育主题活动方案精选篇</tspan><tspan x="1094" dy="20">6</tspan></text>
<path class="u" d="M1086 3192H1339"/>
</g>
<g id="n-p6-a">
<text class="t d" x="831" y="2019"><tspan>民办学校是在"以质量求生存，以服务赢口碑</tspan><tspan x="831" dy="15">，以生源求发展"的激烈竞争中优胜劣汰的。</tspan><tspan x="831" dy="15">而生源和口碑又与家长是否认同学校以及家长</tspan><tspan x="831" dy="15">认同度的高低密切相关。因此，学校在内强素</tspan><tspan x="831" dy="15">质、外树形象的前提下，大力实施"家校共建"</tspan><tspan x="831" dy="15">工程，对于形成教育合力、创建学校特色、提</tspan><tspan x="831" dy="15">高教学质量、拓展学生生源，进而把学校做大</tspan><tspan x="831" dy="15">做强具有十分重要的意义。为此，特拟定"家</tspan><tspan x="831" dy="15">校共建"实施方案如下：</tspan></text>
<path class="u" d="M824 2147H1068"/>
</g>
<g id="n-p6-b"><text class="t d e" x="1061" y="2249">一、活动目的：</text><path class="u" d="M973 2259H1068"/></g>
<g id="n-p6-b1">
<text class="t d" x="718" y="2189"><tspan>通过"家校共建"系列活动让广大家长更了解、</tspan><tspan x="718" dy="15">认同、支持学校工作，进而构建和谐的家校关</tspan><tspan x="718" dy="15">系，汇聚教育合力，努力促使学校各项工作上</tspan><tspan x="718" dy="15">台阶、上档次，促进学校的健康、稳定、可持</tspan><tspan x="718" dy="15">续发展。</tspan></text>
<path class="u" d="M711 2259H955"/>
</g>
<g id="n-p6-c"><text class="t d e" x="1061" y="3215">二、活动举措：</text><path class="u" d="M973 3224H1068"/></g>
<g id="n-p6-c1"><text class="t d e" x="951" y="2374">1、建立一支德艺双馨的教师队伍。</text><path class="u" d="M765 2382H958"/></g>
<g id="n-p6-c1t">
<text class="t d" x="508" y="2299"><tspan>"金杯银杯不如家长的口碑"。家长良好的口碑</tspan><tspan x="508" dy="15">从何而来?从学校良好的管理、突出的办学特</tspan><tspan x="508" dy="15">色、一流的教学质量而来。而要达到这一目标</tspan><tspan x="508" dy="15">的关键就在教师。因此，建立一支德艺双馨的</tspan><tspan x="508" dy="15">、稳定的教师队伍是实施"家校共建"工程，开</tspan><tspan x="508" dy="15">展好相关活动的前提和基础。</tspan></text>
<path class="u" d="M501 2382H745"/>
</g>
<g id="n-p6-c2"><text class="t d e" x="951" y="2790">2、建立学校、年级、班级三级家长委员会。</text><path class="u" d="M719 2800H958"/></g>
<g id="n-p6-c2a">
<text class="t d" x="463" y="2426"><tspan>家长委员会成员必须是对学校认同度高、素质</tspan><tspan x="463" dy="15">全面、热心参与且方便来校的家长，以便充分</tspan><tspan x="463" dy="15">发挥其应有的作用，取得好的效果。</tspan></text>
<path class="u" d="M456 2464H700"/>
</g>
<g id="n-p6-c2b"><text class="t d e" x="693" y="2620">(1)学校家长委员会：</text><path class="u" d="M580 2629H700"/></g>
<g id="n-p6-c2bt">
<text class="t d" x="325" y="2590"><tspan>设主任1人，副主任3人(每个年级1人)，委员5</tspan><tspan x="325" dy="15">——7人，原则上每班推选1人。学校家长委员</tspan><tspan x="325" dy="15">会的主要职责和权利如下：</tspan></text>
<path class="u" d="M318 2629H561"/>
</g>
<g id="n-p6-c2b1"><text class="t d" x="58" y="2506"><tspan>A、了解学校情况，参与学校管理和重大活动</tspan><tspan x="58" dy="15">。</tspan></text><path class="u" d="M51 2530H298"/></g>
<g id="n-p6-c2b2"><text class="t d" x="58" y="2572"><tspan>B、收集家长意见或建议，及时予以反馈并为</tspan><tspan x="58" dy="15">学校发展建言献策。</tspan></text><path class="u" d="M51 2596H298"/></g>
<g id="n-p6-c2b3"><text class="t d" x="58" y="2638"><tspan>C、协调学校与家庭、教师与家长的关系，形</tspan><tspan x="58" dy="15">成教育合力。</tspan></text><path class="u" d="M51 2662H298"/></g>
<g id="n-p6-c2b4"><text class="t d" x="58" y="2705"><tspan>D、引导和指导家长搞好家庭教育、维护学校</tspan><tspan x="58" dy="15">形象，努力创建教育品牌。</tspan></text><path class="u" d="M51 2728H298"/></g>
<g id="n-p6-c2c"><text class="t d e" x="693" y="2876">(2)年级家长委员会：</text><path class="u" d="M580 2885H700"/></g>
<g id="n-p6-c2ct">
<text class="t d" x="325" y="2847"><tspan>设主任1人，副主任2——3人，委员2——5人</tspan><tspan x="325" dy="15">，每班推选1——2人。年级家长委员会的主</tspan><tspan x="325" dy="15">要职责和权利如下：</tspan></text>
<path class="u" d="M318 2885H561"/>
</g>
<g id="n-p6-c2c1"><text class="t d" x="58" y="2770"><tspan>A、了解年级教育教学情况，参与年级重大活</tspan><tspan x="58" dy="15">动。</tspan></text><path class="u" d="M51 2793H298"/></g>
<g id="n-p6-c2c2"><text class="t d" x="58" y="2836"><tspan>B、收集年级家长意见或建议，为年级发展建</tspan><tspan x="58" dy="15">言献策。</tspan></text><path class="u" d="M51 2859H298"/></g>
<g id="n-p6-c2c3"><text class="t d" x="58" y="2902"><tspan>C、协调年级教师与家长的关系，形成教育合</tspan><tspan x="58" dy="15">力。</tspan></text><path class="u" d="M51 2925H298"/></g>
<g id="n-p6-c2c4"><text class="t d e" x="291" y="2969">D、协助年级组解决某些矛盾和问题。</text><path class="u" d="M88 2977H298"/></g>
<g id="n-p6-c2d"><text class="t d e" x="693" y="3126">(3)班级家长委员会：</text><path class="u" d="M580 3135H700"/></g>
<g id="n-p6-c2dt">
<text class="t d" x="325" y="3112"><tspan>设主任1人，副主任2人，委员2——4人。其</tspan><tspan x="325" dy="15">主要职责和权利如下：</tspan></text>
<path class="u" d="M318 3135H561"/>
</g>
<g id="n-p6-c2d1"><text class="t d" x="58" y="3021"><tspan>A、了解班级教育教学情况，参与年班级重大</tspan><tspan x="58" dy="15">活动。</tspan></text><path class="u" d="M51 3044H298"/></g>
<g id="n-p6-c2d2"><text class="t d" x="58" y="3086"><tspan>B、收集班级家长意见或建议，为班级发展建</tspan><tspan x="58" dy="15">言献策。</tspan></text><path class="u" d="M51 3109H298"/></g>
<g id="n-p6-c2d3"><text class="t d" x="58" y="3153"><tspan>C、协调班级教师与家长的关系，形成教育合</tspan><tspan x="58" dy="15">力。</tspan></text><path class="u" d="M51 3176H298"/></g>
<g id="n-p6-c2d4"><text class="t d e" x="291" y="3219">D、协助班主任解决某些矛盾和问题。</text><path class="u" d="M88 3227H298"/></g>
<g id="n-p6-c3"><text class="t d e" x="951" y="3373">3、让家长参与学校管理。</text><path class="u" d="M811 3382H958"/></g>
<g id="n-p6-c3t">
<text class="t d" x="555" y="3359"><tspan>根据学校实际，拟在学校家长委员会成员中暂</tspan><tspan x="555" dy="15">设以下三个小组参与学校管理：</tspan></text>
<path class="u" d="M548 3382H792"/>
</g>
<g id="n-p6-c3a"><text class="t d e" x="519" y="3300">(1)饭堂监督组：(3人)</text><path class="u" d="M404 3309H526"/></g>
<g id="n-p6-c3at"><text class="t d" x="147" y="3270"><tspan>负责对学校饭堂的卫生、食品安全、饭菜质量</tspan><tspan x="147" dy="15">、服务态度、就餐秩序等方面的监督，并提出</tspan><tspan x="147" dy="15">改进意见或建议。</tspan></text><path class="u" d="M140 3309H384"/></g>
<g id="n-p6-c3b"><text class="t d e" x="519" y="3365">(2)宿舍监督组：(3人)</text><path class="u" d="M404 3374H526"/></g>
<g id="n-p6-c3bt"><text class="t d" x="147" y="3351"><tspan>负责对学生宿舍的卫生、内务、纪律、安全等</tspan><tspan x="147" dy="15">方面的监督，并提出改进意见或建议。</tspan></text><path class="u" d="M140 3374H384"/></g>
<g id="n-p6-c3c"><text class="t d e" x="519" y="3446">(3)教学监督组：(3人)</text><path class="u" d="M404 3456H526"/></g>
<g id="n-p6-c3ct"><text class="t d" x="147" y="3416"><tspan>负责对教师的教学情况包括教师上课、作业批</tspan><tspan x="147" dy="15">改、课后辅导等方面的监督，并提出改进意见</tspan><tspan x="147" dy="15">或建议。</tspan></text><path class="u" d="M140 3456H384"/></g>
<g id="n-p6-c4"><text class="t d e" x="951" y="3589">4、提高教师的沟通能力和技巧。</text><path class="u" d="M776 3599H958"/></g>
<g id="n-p6-c4a"><text class="t d e" x="747" y="3498">(1)对全体教师进行有针对性的系统培训。</text><path class="u" d="M531 3506H754"/></g>
<g id="n-p6-c4b"><text class="t d e" x="747" y="3549">(2)请沟通能力强的教师作经验介绍。</text><path class="u" d="M554 3558H754"/></g>
<g id="n-p6-c4c"><text class="t d" x="520" y="3600"><tspan>(3)采取多种方式与家长沟通，比如电话、短</tspan><tspan x="520" dy="15">信、微博、微信、qq、家访等。</tspan></text><path class="u" d="M513 3624H754"/></g>
<g id="n-p6-c4d"><text class="t d" x="520" y="3667"><tspan>(4)用爱心、诚心、细心和耐心架设沟通桥梁</tspan><tspan x="520" dy="15">。</tspan></text><path class="u" d="M513 3690H754"/></g>
<g id="n-p6-c5"><text class="t d e" x="951" y="3839">5、成立家长学校。</text><path class="u" d="M845 3848H958"/></g>
<g id="n-p6-c5t">
<text class="t d" x="587" y="3780"><tspan>学校成立由学校校长、中层领导和部分家长代</tspan><tspan x="587" dy="15">表参加的家长学校执委会，全面负责对家长学</tspan><tspan x="587" dy="15">校工作的领导、并负责工作安排和工作指导，</tspan><tspan x="587" dy="15">由学校校长兼任家长学校的校长。家长学校的</tspan><tspan x="587" dy="15">主要任务是：</tspan></text>
<path class="u" d="M580 3848H824"/>
</g>
<g id="n-p6-c5a"><text class="t d" x="326" y="3732"><tspan>(1)负责对全体家长进行家教理念、家教方法</tspan><tspan x="326" dy="15">、家教技巧的培训。</tspan></text><path class="u" d="M319 3756H565"/></g>
<g id="n-p6-c5b"><text class="t d" x="326" y="3799"><tspan>(2)负责宣传学校的办学理念、管理理念、教</tspan><tspan x="326" dy="15">学理念等，并展示学校的办学成果和亮点。</tspan></text><path class="u" d="M319 3823H565"/></g>
<g id="n-p6-c5c"><text class="t d e" x="558" y="3865">(3)安排家教中的"成功人士"介绍经验。</text><path class="u" d="M351 3873H565"/></g>
<g id="n-p6-c5d"><text class="t d" x="326" y="3916"><tspan>(4)评选"优秀家长""尊师重教好家长"并予以表</tspan><tspan x="326" dy="15">彰。</tspan></text><path class="u" d="M319 3939H565"/></g>
<g id="n-p6-c6"><text class="t d e" x="951" y="4056">6、开好家长会。</text><path class="u" d="M856 4065H958"/></g>
<g id="n-p6-c6t">
<text class="t d" x="601" y="3982"><tspan>开好每学期一次的学生家长会是"家校共建"的</tspan><tspan x="601" dy="15">重点工作之一。通过家长会，让广大家长进一</tspan><tspan x="601" dy="15">步了解学校、认同学校;了解其子弟在校的思</tspan><tspan x="601" dy="15">想表现和学习情况;了解家长的意见、要求和</tspan><tspan x="601" dy="15">呼声。从而更有利于家校配合，形成教育合力</tspan><tspan x="601" dy="15">，促进青少年学生的健康成长。</tspan></text>
<path class="u" d="M594 4065H838"/>
</g>
<g id="n-p6-d"><text class="t d e" x="1061" y="4231">三、保障机制：</text><path class="u" d="M973 4240H1068"/></g>
<g id="n-p6-d1">
<text class="t d" x="723" y="4108"><tspan>为确保"家校共建"系列活动取得理想成效，学</tspan><tspan x="723" dy="15">校建立如下保障体系：</tspan></text>
<path class="u" d="M716 4131H958"/>
</g>
<g id="n-p6-d1a"><text class="t d e" x="693" y="4122">1、组织保障。</text><path class="u" d="M606 4131H700"/></g>
<g id="n-p6-d2"><text class="t d e" x="951" y="4338">学校成立"家校共建"领导小组：</text><path class="u" d="M785 4348H958"/></g>
<g id="n-p6-d2a"><text class="t d e" x="758" y="4174">组长：唐昌旭</text><path class="u" d="M682 4183H765"/></g>
<g id="n-p6-d2b"><text class="t d e" x="758" y="4225">副组长：刘海东 张运兰</text><path class="u" d="M633 4234H765"/></g>
<g id="n-p6-d2c"><text class="t d e" x="758" y="4277">成员：许来娣 陈齐娇 黄小灵</text><path class="u" d="M607 4285H765"/></g>
<g id="n-p6-d2d"><text class="t d e" x="758" y="4343">2、经费保障。</text><path class="u" d="M675 4351H765"/></g>
<g id="n-p6-d2dt"><text class="t d" x="420" y="4328"><tspan>学校每年从校长基金中拨专款不低于5000元</tspan><tspan x="420" dy="15">，以确保"家校共建"系列活动顺利开展。</tspan></text><path class="u" d="M413 4351H656"/></g>
<g id="n-p6-d2e"><text class="t d e" x="758" y="4506">3、制度保障。</text><path class="u" d="M675 4515H765"/></g>
<g id="n-p6-d2e1"><text class="t d" x="420" y="4394"><tspan>(1)把教师在"家校共建"系列活动中的表现纳入</tspan><tspan x="420" dy="15">"铭师工程"考核和"优秀班主任""优秀教师""十</tspan><tspan x="420" dy="15">大杰出青年"等的评定。</tspan></text><path class="u" d="M413 4432H656"/></g>
<g id="n-p6-d2e2"><text class="t d" x="420" y="4574"><tspan>(2)把各级组开展"家校共建"系列活动情况纳</tspan><tspan x="420" dy="15">入先进级组考核，PK细则如下：</tspan></text><path class="u" d="M413 4598H656"/></g>
<g id="n-p6-d2e2a"><text class="t d" x="153" y="4475"><tspan>A、各级组根据学校要求制定切实可行方案。(</tspan><tspan x="153" dy="15">A、300分，B、200分，C、100分)</tspan></text><path class="u" d="M146 4498H393"/></g>
<g id="n-p6-d2e2b"><text class="t d" x="153" y="4541"><tspan>B、各级组根据拟定方案开展相关活动且效果</tspan><tspan x="153" dy="15">好。(A、300分，B、200分，C、100分)</tspan></text><path class="u" d="M146 4564H393"/></g>
<g id="n-p6-d2e2c"><text class="t d" x="153" y="4607"><tspan>C、家长会到会率高且效果好。(A、300分，</tspan><tspan x="153" dy="15">B、200分，C、100分)</tspan></text><path class="u" d="M146 4631H393"/></g>
<g id="n-p6-d2e2d"><text class="t d" x="153" y="4673"><tspan>D、对活动资料及时收集整理。(A、300分，</tspan><tspan x="153" dy="15">B、200分，C、100分)</tspan></text><path class="u" d="M146 4697H393"/></g>

<!-- 篇7 -->
<g id="n-p7">
<text class="tl" x="1640" y="3193.5">小学家校共育主题活动方案精选篇7</text>
<path class="u" d="M1630 3205H1889"/>
</g>
<g id="n-p7-a"><text class="t d" x="1906" y="2884">一、指导思想：</text><path class="u" d="M1898 2893H1992"/></g>
<g id="n-p7-a1">
<text class="t d" x="2021" y="2719"><tspan>为充分发挥广大家长在学校教育和家庭教育中</tspan><tspan x="2021" dy="15">的作用，增强学校、教师、家长之间的沟通，</tspan><tspan x="2021" dy="15">让家长走进校园，走进课堂，了解学校的管理</tspan><tspan x="2021" dy="15">与发展趋势，了解课堂教学和课改动向，缩短</tspan><tspan x="2021" dy="15">学校与家庭，学校与社会的距离，向家长展示</tspan><tspan x="2021" dy="15">学校的办学思想和理念，展示师生风采，创设</tspan><tspan x="2021" dy="15">和谐育人的氛围。让家长亲身经历子女在校的</tspan><tspan x="2021" dy="15">学习和生活，走近孩子，倾听心声，走进教室</tspan><tspan x="2021" dy="15">，关注教育;走进学校，参与评价，从而更好</tspan><tspan x="2021" dy="15">地配合学校，共同关注每一个孩子都能健康的</tspan><tspan x="2021" dy="15">成长。学校结合自身实际和上级相关工作精神</tspan><tspan x="2021" dy="15">制定本家校共育活动实施方案。</tspan></text>
<path class="u" d="M2008 2893H2258"/>
</g>
<g id="n-p7-b"><text class="t d" x="1906" y="3039">二、具体要求：</text><path class="u" d="M1898 3048H1992"/></g>
<g id="n-p7-b1">
<text class="t d" x="2021" y="2934"><tspan>本次活动，不仅是让家长们看到自己孩子在学</tspan><tspan x="2021" dy="15">校的表现和学习生活，而且从中也是对学校老</tspan><tspan x="2021" dy="15">师素质，教育水平的一个全面、立体的检查和</tspan><tspan x="2021" dy="15">展示。因此，全体教师要高度重视，用我们的</tspan><tspan x="2021" dy="15">.诚意尽心为家长，学生服务。将本次家校共</tspan><tspan x="2021" dy="15">育活动作为宣传学校、展示自我的平台，科学</tspan><tspan x="2021" dy="15">安排，精心组织，保证质量，力求实效，努力</tspan><tspan x="2021" dy="15">让家长安心满意，让孩子受益开心。</tspan></text>
<path class="u" d="M2008 3048H2258"/>
</g>
<g id="n-p7-c"><text class="t d" x="1906" y="3091">三、活动主题</text><path class="u" d="M1898 3099H1990"/></g>
<g id="n-p7-c1"><text class="t d" x="2010" y="3091">家校共育，促进学生成长</text><path class="u" d="M2003 3099H2141"/></g>
<g id="n-p7-d"><text class="t d" x="1906" y="3142">四、活动时间：</text><path class="u" d="M1898 3150H1992"/></g>
<g id="n-p7-e"><text class="t d" x="1906" y="3509">五、活动内容：</text><path class="u" d="M1898 3517H2003"/></g>
<g id="n-p7-e1">
<text class="t d" x="2021" y="3193"><tspan>1、安排专题讲话，同时发出征集家庭优秀教</tspan><tspan x="2021" dy="15">育案例的活动倡议。以班为单位收集好相关材</tspan><tspan x="2021" dy="15">料交学校存放</tspan></text>
<path class="u" d="M2013 3232H2258"/>
</g>
<g id="n-p7-e2"><text class="t d" x="2021" y="3421">2、召开学生家长会</text><path class="u" d="M2013 3429H2123"/></g>
<g id="n-p7-e2a"><text class="t d" x="2153" y="3421">会议程序如下：</text><path class="u" d="M2145 3429H2240"/></g>
<g id="n-p7-e2a1"><text class="t d" x="2267" y="3273"><tspan>(1)优秀教师就就如何在家庭中辅导孩子学习</tspan><tspan x="2267" dy="15">，培养良好习惯的问题方面介绍经验。</tspan></text><path class="u" d="M2260 3296H2545"/></g>
<g id="n-p7-e2a2"><text class="t d" x="2267" y="3339"><tspan>(2)学生家长代表发言，主要介绍自己的家庭教</tspan><tspan x="2267" dy="15">育经验</tspan></text><path class="u" d="M2260 3363H2545"/></g>
<g id="n-p7-e2a3"><text class="t d" x="2267" y="3406"><tspan>(3)家长委员会主任发言，主要介绍家长配合</tspan><tspan x="2267" dy="15">学校进行教育的具体做法。</tspan></text><path class="u" d="M2260 3429H2545"/></g>
<g id="n-p7-e2a4"><text class="t d" x="2267" y="3472"><tspan>(4)校长就如何营造孩子健康成长的环境进行发</tspan><tspan x="2267" dy="15">言</tspan></text><path class="u" d="M2260 3495H2545"/></g>
<g id="n-p7-e2a5"><text class="t d" x="2267" y="3538"><tspan>(5)家长与他们的班主任、任课教师就孩子</tspan><tspan x="2267" dy="15">的学习和习惯进行沟通。</tspan></text><path class="u" d="M2260 3561H2545"/></g>
<g id="n-p7-e3"><text class="t d" x="2021" y="3604">3、深入课堂，随堂听课，参与教学活动</text><path class="u" d="M2013 3611H2230"/></g>
<g id="n-p7-e4"><text class="t d" x="2021" y="3685">4、召开主题班会</text><path class="u" d="M2013 3693H2130"/></g>
<g id="n-p7-e4t"><text class="t d" x="2141" y="3655"><tspan>各班以"我的成长"为主题召开主题班会，班主</tspan><tspan x="2141" dy="15">任老师做好方案的设计和活动的顺利进行，要</tspan><tspan x="2141" dy="15">求家长参与。</tspan></text><path class="u" d="M2135 3693H2379"/></g>
<g id="n-p7-e5"><text class="t d" x="2021" y="3795">5、学生才艺展示活动</text><path class="u" d="M2013 3805H2156"/></g>
<g id="n-p7-e5t"><text class="t d" x="2164" y="3736"><tspan>举办学生才艺展示活动，学生选取一种或多种</tspan><tspan x="2164" dy="15">才艺进行展示。如演讲、器乐、声乐、书画等</tspan><tspan x="2164" dy="15">。通过此次活动，同学们各展所长，用丰富多</tspan><tspan x="2164" dy="15">彩的才艺，展现健康活泼、积极向上、灿烂浓</tspan><tspan x="2164" dy="15">郁的校园文化氛围。</tspan></text><path class="u" d="M2158 3805H2402"/></g>

<g id="watermark">
<text class="wm" transform="translate(345 710) rotate(-31)">树图 shutu.cn</text>
<text class="wm" transform="translate(1628 710) rotate(-31)">树图 shutu.cn</text>
<text class="wm" transform="translate(345 1690) rotate(-31)">树图 shutu.cn</text>
<text class="wm" transform="translate(1624 1670) rotate(-31)">树图 shutu.cn</text>
<text class="wm" transform="translate(350 2713) rotate(-31)">树图 shutu.cn</text>
<text class="wm" transform="translate(1620 2700) rotate(-31)">树图 shutu.cn</text>
<text class="wm" transform="translate(350 3703) rotate(-31)">树图 shutu.cn</text>
<text class="wm" transform="translate(1620 3696) rotate(-31)">树图 shutu.cn</text>
<text class="wm" transform="translate(350 4703) rotate(-31)">树图 shutu.cn</text>
<text class="wm" transform="translate(1620 4700) rotate(-31)">树图 shutu.cn</text>
</g>
</g>
</svg>
